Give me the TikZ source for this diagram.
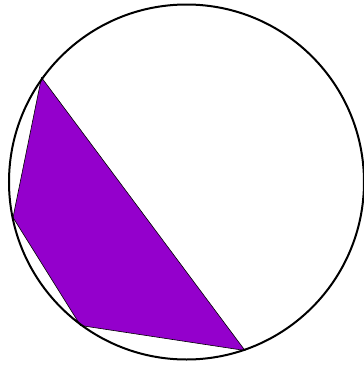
\documentclass[tikz,border=0pt]{standalone}
\definecolor{poly}{RGB}{148,0,204}
\tikzset{rim/.style={draw=black,line width=2pt},
  polyfill/.style={fill=poly,draw=black,line width=0.6pt,line join=miter}}
\begin{document}
\begin{tikzpicture}[x=1pt,y=-1pt]
\useasboundingbox (0,0) rectangle (364,368);
\coordinate (A) at (41.5,77.5);
\coordinate (B) at (13,217.5);
\coordinate (C) at (80.5,325.5);
\coordinate (D) at (245,350.5);
\coordinate (O) at (186.5,182);
\filldraw[polyfill] (A) -- (B) -- (C) -- (D) -- cycle;
\draw[rim] (O) circle[radius=177.5];
\end{tikzpicture}
\end{document}
